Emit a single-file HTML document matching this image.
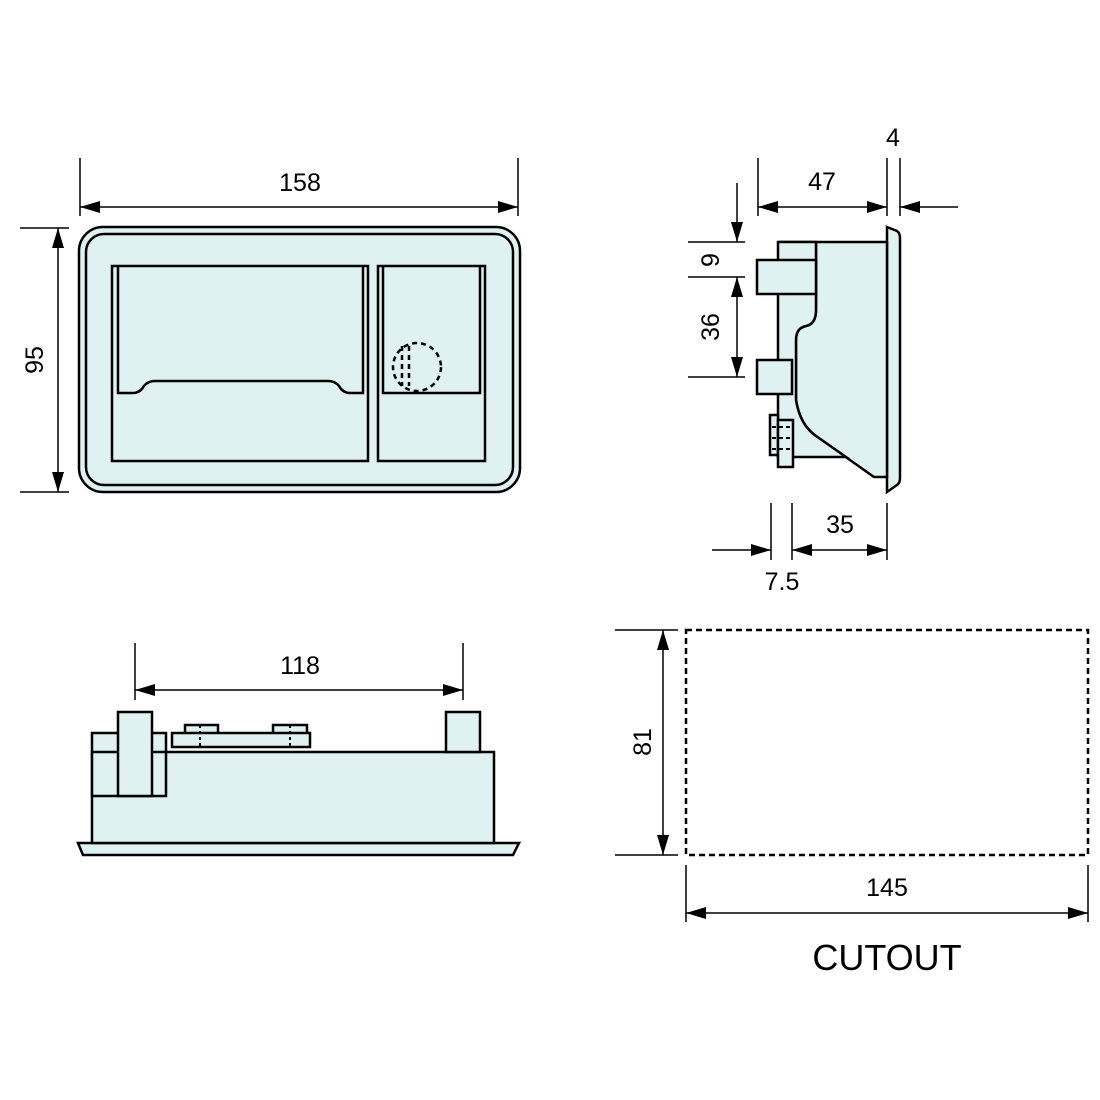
<!DOCTYPE html>
<html><head><style>body{margin:0;background:#fff}svg{display:block}</style></head><body>
<svg width="1100" height="1100" viewBox="0 0 1100 1100" xmlns="http://www.w3.org/2000/svg" font-family="Liberation Sans, sans-serif">
<defs>
<marker id="a" markerWidth="20" markerHeight="12" refX="20" refY="6" orient="auto-start-reverse" markerUnits="userSpaceOnUse"><path d="M0,0 L20,6 L0,12 Z" fill="#000"/></marker>
</defs>
<g fill="#dff1f1" stroke="#000" stroke-width="2.5">
<rect x="79" y="227" width="441" height="265" rx="24" fill="#dff1f1"/>
<rect x="86" y="234" width="427" height="251" rx="18" fill="none"/>
<rect x="112" y="266" width="256" height="195"/>
<path d="M118,266 V393 H133 Q140,393 144,386 Q148,381 155,381 H328 Q335,381 339,386 Q343,393 350,393 H363 V266" fill="none"/>
<rect x="378" y="266" width="107" height="195"/>
<path d="M383,266 V393 H480 V266" fill="none"/>
<g fill="none" stroke-dasharray="5,4">
<circle cx="417" cy="367" r="24"/>
<line x1="402" y1="346" x2="402" y2="386"/>
<line x1="409" y1="346" x2="409" y2="386"/>
</g>
<path d="M887,227 L897,231 Q900,233 900,238 V478 Q900,483 897,485 L887,492 Z"/>
<path d="M778,242 H887 V477 H874 L816,436 Q800,425 796,400 V340 Q796,328 806,326 Q816,324 816,310 V242 Z"/>
<path d="M778,242 H816 V310 Q816,324 806,326 Q796,328 796,340 V400 Q800,425 816,436 L846,457 H778 Z"/>
<rect x="757" y="260" width="59" height="34"/>
<rect x="757" y="360" width="35" height="34"/>
<rect x="770" y="415" width="8" height="40"/>
<rect x="778" y="420" width="15" height="47"/>
<g fill="none" stroke-dasharray="4,3" stroke-width="2">
<line x1="772" y1="427" x2="793" y2="427"/><line x1="772" y1="438" x2="793" y2="438"/><line x1="772" y1="449" x2="793" y2="449"/>
</g>
<path d="M78,843 H519 L513,855 H83 Z"/>
<rect x="92" y="752" width="402" height="91"/>
<rect x="92" y="733" width="74" height="63"/>
<line x1="92" y1="752" x2="166" y2="752"/>
<rect x="118" y="712" width="34" height="84"/>
<rect x="446" y="712" width="34" height="40"/>
<rect x="185" y="725" width="33" height="10"/>
<rect x="273" y="725" width="34" height="10"/>
<rect x="172" y="733" width="138" height="14"/>
<g stroke-dasharray="3,3" stroke-width="2"><line x1="200" y1="725" x2="200" y2="747"/><line x1="290" y1="725" x2="290" y2="747"/></g>
<rect x="686" y="630" width="402" height="225" fill="none" stroke-dasharray="6,4"/>
</g>
<g stroke="#000" stroke-width="1.5" fill="none">
<line x1="80" y1="158" x2="80" y2="216"/><line x1="518" y1="158" x2="518" y2="216"/>
<line x1="80" y1="207" x2="518" y2="207" marker-start="url(#a)" marker-end="url(#a)"/>
<line x1="20" y1="228" x2="69" y2="228"/><line x1="20" y1="492" x2="69" y2="492"/>
<line x1="58" y1="228" x2="58" y2="492" marker-start="url(#a)" marker-end="url(#a)"/>
<line x1="758" y1="158" x2="758" y2="216"/><line x1="887" y1="158" x2="887" y2="216"/><line x1="900" y1="158" x2="900" y2="216"/>
<line x1="758" y1="207" x2="887" y2="207" marker-start="url(#a)" marker-end="url(#a)"/>
<line x1="958" y1="207" x2="900" y2="207" marker-end="url(#a)"/>
<line x1="688" y1="242" x2="745" y2="242"/><line x1="688" y1="277" x2="745" y2="277"/><line x1="688" y1="377" x2="745" y2="377"/>
<line x1="737" y1="183" x2="737" y2="242" marker-end="url(#a)"/>
<line x1="737" y1="277" x2="737" y2="377" marker-start="url(#a)" marker-end="url(#a)"/>
<line x1="771" y1="503" x2="771" y2="560"/><line x1="792" y1="503" x2="792" y2="560"/><line x1="887" y1="503" x2="887" y2="560"/>
<line x1="712" y1="550" x2="771" y2="550" marker-end="url(#a)"/>
<line x1="792" y1="550" x2="887" y2="550" marker-start="url(#a)" marker-end="url(#a)"/>
<line x1="135" y1="643" x2="135" y2="700"/><line x1="463" y1="643" x2="463" y2="700"/>
<line x1="135" y1="690" x2="463" y2="690" marker-start="url(#a)" marker-end="url(#a)"/>
<line x1="615" y1="630" x2="678" y2="630"/><line x1="615" y1="855" x2="678" y2="855"/>
<line x1="663" y1="630" x2="663" y2="855" marker-start="url(#a)" marker-end="url(#a)"/>
<line x1="686" y1="865" x2="686" y2="922"/><line x1="1088" y1="865" x2="1088" y2="922"/>
<line x1="686" y1="913" x2="1088" y2="913" marker-start="url(#a)" marker-end="url(#a)"/>
</g>
<g font-size="25" fill="#000" text-anchor="middle">
<text x="300" y="191">158</text>
<text transform="translate(43,360) rotate(-90)">95</text>
<text x="822" y="190">47</text>
<text x="893" y="146">4</text>
<text transform="translate(719,260) rotate(-90)">9</text>
<text transform="translate(719,327) rotate(-90)">36</text>
<text x="840" y="533">35</text>
<text x="782" y="590">7.5</text>
<text x="300" y="674">118</text>
<text transform="translate(651,742) rotate(-90)">81</text>
<text x="887" y="896">145</text>
<text x="887" y="970" font-size="36">CUTOUT</text>
</g>
</svg>
</body></html>
